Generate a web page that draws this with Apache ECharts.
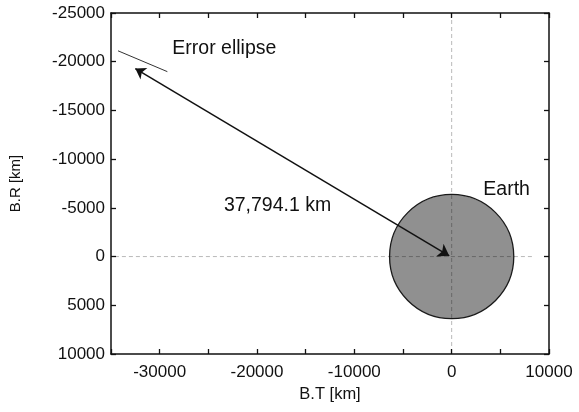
<!DOCTYPE html>
<html>
<head>
<meta charset="utf-8">
<script src="https://cdn.jsdelivr.net/npm/echarts@6/dist/echarts.min.js"></script>
<style>
html,body{margin:0;padding:0;background:#fff;}
#c{width:579px;height:412px;}
</style>
</head>
<body>
<div id="c"></div>
<script>
// ---- data ----
var xRange = [-35000, 10000];
var yRange = [-25000, 10000];
var earthCenter = [0, 0];
var earthRadius = 6378;          // km
var arrowStart = [-32500, -19300];
var arrowEnd = [-250, -80];
var errorEllipse = [[-34280, -21120], [-29210, -18980]];
var zeroLineH = [[-34600, 0], [8500, 0]];
var zeroLineV = [[0, -25000], [0, 10000]];
var annotations = [
  { text: 'Error ellipse', pos: [-28700, -21300] },
  { text: '37,794.1 km', pos: [-23400, -5250] },
  { text: 'Earth', pos: [3250, -6850] }
];

var FONT = 'Liberation Sans, Arial, Helvetica, sans-serif';
var chart = echarts.init(document.getElementById('c'), null, { renderer: 'canvas' });

function axisCommon(extra) {
  var base = {
    type: 'value',
    axisLine: { show: true, onZero: false, lineStyle: { color: '#111', width: 1.5 } },
    axisTick: { show: true, inside: true, length: 5, lineStyle: { color: '#111', width: 1.3 } },
    splitLine: { show: false },
    axisLabel: { show: false }
  };
  for (var k in extra) base[k] = extra[k];
  return base;
}

var option = {
  backgroundColor: '#fff',
  animation: false,
  grid: { left: 106, right: 30, top: 13, bottom: 58, containLabel: false },
  xAxis: [
    axisCommon({
      position: 'bottom', min: xRange[0], max: xRange[1], interval: 5000,
      name: 'B.T [km]', nameLocation: 'middle', nameGap: 31,
      nameTextStyle: { fontFamily: FONT, fontSize: 16.5, color: '#111' },
      axisLabel: {
        show: true, margin: 10, fontFamily: FONT, fontSize: 17, color: '#111',
        formatter: function (v) { return (v % 10000 === 0) ? String(v) : ''; }
      }
    }),
    axisCommon({ position: 'top', min: xRange[0], max: xRange[1], interval: 5000 })
  ],
  yAxis: [
    axisCommon({
      position: 'left', inverse: true, min: yRange[0], max: yRange[1], interval: 5000,
      name: 'B.R [km]', nameLocation: 'middle', nameGap: 88,
      nameTextStyle: { fontFamily: FONT, fontSize: 15, color: '#111' },
      axisLabel: {
        show: true, margin: 6, fontFamily: FONT, fontSize: 17, color: '#111',
        formatter: function (v) { return String(v); }
      }
    }),
    axisCommon({ position: 'right', inverse: true, min: yRange[0], max: yRange[1], interval: 5000 })
  ],
  series: [
    {
      type: 'custom', z: 2,
      data: [[earthCenter[0], earthCenter[1], earthRadius]],
      renderItem: function (params, api) {
        var c = api.coord([api.value(0), api.value(1)]);
        var s = api.size([api.value(2), api.value(2)]);
        return {
          type: 'circle',
          shape: { cx: c[0], cy: c[1], r: (s[0] + s[1]) / 2 },
          style: { fill: '#909090', stroke: '#1a1a1a', lineWidth: 1.3 }
        };
      }
    },
    {
      type: 'line', data: zeroLineV, symbol: 'none', silent: true,
      lineStyle: { color: 'rgba(0,0,0,0.28)', width: 1, type: [4, 3] }, z: 3
    },
    {
      type: 'line', data: zeroLineH, symbol: 'none', silent: true,
      lineStyle: { color: 'rgba(0,0,0,0.28)', width: 1, type: [4, 3] }, z: 3
    },
    {
      type: 'line', data: errorEllipse, symbol: 'none', silent: true,
      lineStyle: { color: '#333', width: 1 }, z: 4
    },
    {
      type: 'lines', coordinateSystem: 'cartesian2d', z: 5,
      symbol: ['arrow', 'arrow'], symbolSize: [11, 10],
      lineStyle: { color: '#111', width: 1.5, opacity: 1 },
      itemStyle: { color: '#111' },
      data: [{ coords: [arrowEnd, arrowStart] }]
    },
    {
      type: 'scatter', symbolSize: 0, z: 6, silent: true,
      itemStyle: { opacity: 1 },
      data: annotations.map(function (a) { return { value: a.pos, name: a.text }; }),
      label: {
        show: true, position: 'right', distance: 0, opacity: 1,
        fontFamily: FONT, fontSize: 19.5, color: '#111',
        formatter: function (p) { return p.name; }
      }
    }
  ]
};
chart.setOption(option);
</script>
</body>
</html>
